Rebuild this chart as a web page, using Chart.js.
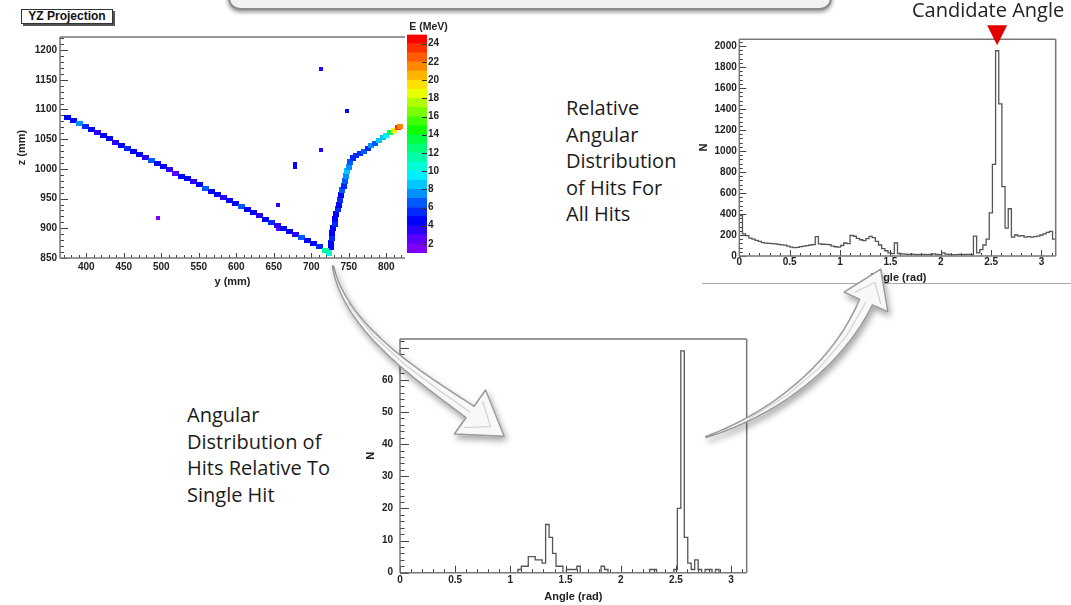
<!DOCTYPE html>
<html>
<head>
<meta charset="utf-8">
<title>Candidate angle from hit angular distributions</title>
<script src="https://cdn.jsdelivr.net/npm/chart.js@4.4.1/dist/chart.umd.min.js"></script>
<style>
  html, body { margin: 0; padding: 0; background: #fff; }
  body { position: relative; width: 1071px; height: 605px; overflow: hidden; }
  .panel { position: absolute; }
  .note { position: absolute; font: 20px 'Open Sans', sans-serif; line-height: 26.6px; color: #1b1b1b; white-space: nowrap; }
  #banner { position: absolute; left: 228px; top: -40px; width: 600px; height: 46px; border: 2px solid #8a8a8a; border-radius: 12px; background: #f2f2f2; box-shadow: 0 2px 4px rgba(0,0,0,.45); }
  #yzTitle { position: absolute; left: 21px; top: 9px; width: 90px; height: 13px; border: 1px solid #333; box-shadow: 2px 2px 0 #555; font: bold 12px 'Liberation Sans', Arial, sans-serif; line-height: 13px; text-align: center; color: #111; background: #fff; }
  #candidate { position: absolute; left: 912px; top: -4px; font: 20px 'Open Sans', sans-serif; line-height: 27px; color: #222; white-space: nowrap; }
  #rule { position: absolute; left: 702px; top: 283px; width: 369px; height: 1px; background: #aaa; }
  #arrows { position: absolute; left: 0; top: 0; z-index: 5; pointer-events: none; }
</style>
</head>
<body>
<div id="banner"></div>
<div id="yzTitle">YZ Projection</div>
<div class="panel" style="left:0;top:28px;width:430px;height:264px"><canvas id="yzChart"></canvas></div>
<div class="panel" style="left:390px;top:20px;width:60px;height:240px"><canvas id="energyBar"></canvas></div>
<div class="panel" style="left:695px;top:20px;width:370px;height:270px"><canvas id="relChart"></canvas></div>
<div class="panel" style="left:360px;top:326px;width:395px;height:279px"><canvas id="singleChart"></canvas></div>
<div id="rule"></div>
<div id="candidate">Candidate Angle</div>
<div class="note" style="left:566px;top:95px">Relative<br>Angular<br>Distribution<br>of Hits For<br>All Hits</div>
<div class="note" style="left:187px;top:402px">Angular<br>Distribution of<br>Hits Relative To<br>Single Hit</div>
<svg id="arrows" width="1071" height="605">
  <defs>
    <filter id="shade" x="-20%" y="-20%" width="140%" height="140%">
      <feDropShadow dx="2" dy="4" stdDeviation="3" flood-color="#000" flood-opacity="0.35"/>
    </filter>
  </defs>
</svg>
<script>
// ── YZ projection hits (y mm, z mm, E MeV) ──
const legY = [375, 383, 391, 399, 407, 415, 423, 431, 439, 447, 455, 463, 471, 479, 487, 495, 503, 511, 519, 527, 535, 543,
              551, 559, 567, 575, 583, 591, 599, 607, 615, 623, 631, 639, 647, 655, 663, 671, 679, 687, 695, 703, 711, 719];
const legZ = [1087, 1082, 1077, 1071, 1066, 1061, 1056, 1051, 1045, 1040, 1035, 1030, 1025, 1019, 1014, 1009, 1004, 999, 993, 988, 983, 978,
              973, 967, 962, 957, 952, 947, 941, 936, 931, 926, 921, 915, 910, 905, 900, 895, 889, 884, 879, 874, 869, 863];
const legE = [4.5, 4.5, 7.5, 5.5, 4.5, 3.5, 4.5, 4.5, 3.5, 4.5, 5.5, 4.5, 4.5, 3.5, 6.5, 4.5, 4.5, 3.5, 2.5, 4.5, 4.5, 3.5,
              4.5, 6.5, 4.5, 4.5, 3.5, 4.5, 4.5, 6.5, 4.5, 4.5, 3.5, 4.5, 5.5, 3.5, 4.5, 4.5, 3.5, 6.5, 4.5, 4.5, 5.5, 11.5];

const riseY = [723, 726, 726, 727, 728, 729, 731, 732, 733, 735, 737, 738, 740, 741, 743, 745, 746, 748, 750, 752, 755];
const riseZ = [859, 868, 876, 884, 892, 900, 908, 916, 924, 932, 940, 948, 956, 964, 972, 980, 988, 996, 1004, 1011, 1018];
const riseE = [10.5, 4.5, 4.5, 5.5, 4.5, 4.5, 5.5, 4.5, 4.5, 5.5, 4.5, 5.5, 4.5, 6.5, 5.5, 6.5, 7.5, 8.5, 7.5, 6.5, 5.5];

const armY = [760, 765, 770, 775, 780, 785, 790, 795, 800, 805, 810, 815, 818];
const armZ = [1022, 1026, 1030, 1034, 1039, 1043, 1047, 1052, 1056, 1061, 1065, 1069, 1072];
const armE = [5.5, 5.5, 6.5, 5.5, 7.5, 6.5, 8.5, 8.5, 9.5, 13.5, 18.5, 23.5, 21.5];

const strayY = [713, 747, 713, 678, 678, 655, 495, 655];
const strayZ = [1168, 1098, 1032, 1008, 1003, 940, 918, 898];
const strayE = [3.5, 4.5, 3.5, 4.5, 4.5, 3.5, 1.5, 2.5];

const yTicksMm = [400, 450, 500, 550, 600, 650, 700, 750, 800];
const zTicksMm = [850, 900, 950, 1000, 1050, 1100, 1150, 1200];

// ── Energy scale ──
const energyEdges = [1, 2, 3, 4, 5, 6, 7, 8, 9, 10, 11, 12, 13, 14, 15, 16, 17, 18, 19, 20, 21, 22, 23, 24, 25];
const energyTicks = [2, 4, 6, 8, 10, 12, 14, 16, 18, 20, 22, 24];
const palette = ['#7d00ff', '#5a00ff', '#2a00ff', '#0000ff', '#0028ff', '#0058ff', '#0090ff', '#00c8ff',
                 '#00f0ff', '#00ffd8', '#00ffa8', '#00ff78', '#00ff40', '#10ff00', '#40ff00', '#78ff00',
                 '#b0ff00', '#e8ff00', '#ffe000', '#ffb400', '#ff8800', '#ff5c00', '#ff3000', '#ff0000'];

// ── Angular histograms, 100 bins over [0, pi] ──
const ANGLE_MIN = 0;
const ANGLE_MAX = Math.PI;
const relCounts = [
  384, 210, 195, 170, 160, 148, 140, 128, 122, 120,
  118, 115, 110, 106, 104, 95, 84, 80, 82, 90,
  95, 98, 105, 108, 184, 115, 112, 110, 108, 95,
  88, 84, 100, 124, 118, 196, 188, 168, 155, 146,
  165, 186, 175, 140, 105, 70, 50, 30, 22, 124,
  24, 20, 18, 16, 18, 15, 14, 16, 15, 14,
  15, 20, 16, 14, 30, 18, 15, 14, 13, 15,
  14, 16, 15, 14, 190, 30, 60, 105, 160, 410,
  873, 1955, 1448, 660, 265, 450, 180, 200, 190, 195,
  180, 185, 180, 185, 190, 200, 210, 225, 235, 160
];
const singleCounts = [
  0, 0, 0, 0, 0, 0, 0, 0, 0, 0,
  0, 0, 0, 0, 0, 0, 0, 0, 0, 0,
  0, 0, 0, 0, 0, 0, 0, 0, 0, 0,
  0, 0, 0, 0, 1, 2, 2, 5, 5, 4,
  4, 3, 15, 11, 6, 2, 2, 0, 1, 1,
  1, 2, 0, 0, 0, 0, 0, 0, 2, 1,
  0, 0, 0, 0, 0, 0, 0, 0, 0, 0,
  0, 0, 1, 1, 0, 0, 0, 0, 0, 1,
  20, 69, 11, 3, 1, 4, 1, 0, 1, 1,
  0, 1, 0, 0, 0, 0, 0, 0, 0, 0
];
const angleTicks = [0, 0.5, 1, 1.5, 2, 2.5, 3];
const relTicks = [0, 200, 400, 600, 800, 1000, 1200, 1400, 1600, 1800, 2000];
const singleTicks = [0, 10, 20, 30, 40, 50, 60];
const candidateAngle = 2.56;

// ── Shared look ──
Chart.defaults.font.family = "'Liberation Sans', Arial, sans-serif";
Chart.defaults.color = '#222';
Chart.defaults.animation = false;
Chart.defaults.responsive = true;
Chart.defaults.maintainAspectRatio = false;
Chart.defaults.plugins.legend.display = false;
Chart.defaults.plugins.tooltip.enabled = false;

const tickFont = { size: 10, weight: 'bold' };
const titleFont = { size: 11, weight: 'bold' };
const useTicks = values => scale => { scale.ticks = values.map(v => ({ value: v })); };
const asText = v => String(v);

// ROOT style: ticks pointing into the frame, plus the frame itself
const rootAxes = {
  id: 'rootAxes',
  afterDatasetsDraw(chart, args, opts) {
    const { ctx, chartArea: a } = chart;
    ctx.save();
    ctx.strokeStyle = opts.tickColor;
    ctx.lineWidth = 1;
    ctx.beginPath();
    (opts.ticks || []).forEach(t => {
      const s = chart.scales[t.axis];
      const first = Math.ceil(s.min / t.minor - 1e-6);
      const last = Math.floor(s.max / t.minor + 1e-6);
      for (let n = first; n <= last; n++) {
        const v = n * t.minor;
        const isMajor = Math.abs(v / t.major - Math.round(v / t.major)) < 1e-6;
        const len = isMajor ? t.majorLen : t.minorLen;
        const p = Math.round(s.getPixelForValue(v)) + 0.5;
        if (s.isHorizontal()) {
          ctx.moveTo(p, a.bottom); ctx.lineTo(p, a.bottom - len);
        } else if (s.position === 'right') {
          ctx.moveTo(a.right, p); ctx.lineTo(a.right - len, p);
        } else {
          ctx.moveTo(a.left, p); ctx.lineTo(a.left + len, p);
        }
      }
    });
    ctx.stroke();
    const sides = opts.sides || '';
    ctx.strokeStyle = opts.frameColor;
    ctx.lineWidth = opts.frameWidth;
    ctx.beginPath();
    if (sides.includes('t')) { ctx.moveTo(a.left, a.top); ctx.lineTo(a.right, a.top); }
    if (sides.includes('r')) { ctx.moveTo(a.right, a.top); ctx.lineTo(a.right, a.bottom); }
    if (sides.includes('b')) { ctx.moveTo(a.left, a.bottom); ctx.lineTo(a.right, a.bottom); }
    if (sides.includes('l')) { ctx.moveTo(a.left, a.top); ctx.lineTo(a.left, a.bottom); }
    ctx.stroke();
    ctx.restore();
  }
};

const candidateMarker = {
  id: 'candidateMarker',
  afterDraw(chart, args, opts) {
    if (!opts.show) return;
    const { ctx, chartArea } = chart;
    const x = chart.scales.x.getPixelForValue(opts.value);
    const top = chartArea.top;
    ctx.save();
    ctx.fillStyle = opts.color;
    ctx.beginPath();
    ctx.moveTo(x - 10, top - 14);
    ctx.lineTo(x + 10, top - 14);
    ctx.lineTo(x, top + 6);
    ctx.closePath();
    ctx.fill();
    ctx.restore();
  }
};

// ── YZ projection ──
const blockCache = {};
function block(color, w, h) {
  const key = color + w + 'x' + h;
  if (!blockCache[key]) {
    const c = document.createElement('canvas');
    c.width = w; c.height = h;
    const g = c.getContext('2d');
    g.fillStyle = color;
    g.fillRect(0, 0, w, h);
    blockCache[key] = c;
  }
  return blockCache[key];
}
function energyColor(e) {
  const i = Math.min(palette.length - 1, Math.max(0, Math.floor(e) - energyEdges[0]));
  return palette[i];
}
function hitSet(ys, zs, es, w, h) {
  return {
    data: ys.map((y, i) => ({ x: y, y: zs[i] })),
    pointStyle: es.map(e => block(energyColor(e), w, h)),
    pointRadius: 3,
    pointHoverRadius: 3,
  };
}

new Chart(document.getElementById('yzChart'), {
  type: 'scatter',
  data: {
    datasets: [
      hitSet(legY, legZ, legE, 7, 5),
      hitSet(riseY, riseZ, riseE, 6, 6),
      hitSet(armY, armZ, armE, 6, 5),
      hitSet(strayY, strayZ, strayE, 4, 4),
    ]
  },
  options: {
    layout: { padding: { left: 0, top: 6, right: 25, bottom: 0 } },
    scales: {
      x: {
        type: 'linear', min: 365, max: 825,
        grid: { display: false, drawTicks: false }, border: { display: false },
        afterBuildTicks: useTicks(yTicksMm),
        afterFit: s => { s.height = 34; },
        ticks: { padding: 3, font: tickFont, maxRotation: 0, callback: asText },
        title: { display: true, text: 'y (mm)', font: titleFont, padding: { top: 0, bottom: 3.4 } },
      },
      y: {
        type: 'linear', min: 850, max: 1222,
        grid: { display: false, drawTicks: false }, border: { display: false },
        afterBuildTicks: useTicks(zTicksMm),
        afterFit: s => { s.width = 60; },
        ticks: { padding: 3, font: tickFont, callback: asText },
        title: { display: true, text: 'z (mm)', font: titleFont, padding: { top: 15.4, bottom: 0 } },
      }
    },
    plugins: {
      rootAxes: {
        tickColor: '#444', frameColor: '#777', frameWidth: 1.5, sides: 'tlb',
        ticks: [
          { axis: 'x', minor: 10, major: 50, majorLen: 5, minorLen: 3 },
          { axis: 'y', minor: 10, major: 50, majorLen: 8, minorLen: 4 },
        ]
      }
    }
  },
  plugins: [rootAxes]
});

// ── Energy colour bar ──
new Chart(document.getElementById('energyBar'), {
  type: 'bar',
  data: {
    labels: ['E'],
    datasets: palette.map((color, i) => ({
      data: [[energyEdges[i], energyEdges[i + 1]]],
      backgroundColor: color,
      borderWidth: 0,
      grouped: false,
      barPercentage: 1,
      categoryPercentage: 1,
    }))
  },
  options: {
    layout: { padding: { left: 17, right: 0, top: 0, bottom: 2 } },
    scales: {
      x: { display: false },
      y: {
        position: 'right', min: energyEdges[0], max: energyEdges[energyEdges.length - 1],
        grid: { display: false, drawTicks: false }, border: { display: false },
        afterBuildTicks: useTicks(energyTicks),
        afterFit: s => { s.width = 23; },
        ticks: { padding: 1, font: tickFont, callback: asText },
      }
    },
    plugins: {
      title: { display: true, text: 'E (MeV)', font: { size: 10.5, weight: 'bold' }, color: '#222', padding: { top: 1, bottom: 1 } },
      rootAxes: {
        tickColor: '#333', frameColor: '#777', frameWidth: 1, sides: '',
        ticks: [{ axis: 'y', minor: 2, major: 2, majorLen: 5, minorLen: 5 }]
      }
    }
  },
  plugins: [rootAxes]
});

// ── Histograms ──
function histPoints(counts) {
  const width = (ANGLE_MAX - ANGLE_MIN) / counts.length;
  const pts = [{ x: ANGLE_MIN, y: 0 }];
  counts.forEach((c, i) => pts.push({ x: ANGLE_MIN + i * width, y: c }));
  pts.push({ x: ANGLE_MAX, y: counts[counts.length - 1] });
  pts.push({ x: ANGLE_MAX, y: 0 });
  return pts;
}

function histogram(id, counts, yMax, nTicks, geo, tickSpec, marker) {
  return new Chart(document.getElementById(id), {
    type: 'line',
    data: {
      datasets: [{
        data: histPoints(counts),
        stepped: true,
        borderColor: '#555',
        borderWidth: 1.3,
        pointRadius: 0,
        fill: false,
      }]
    },
    options: {
      layout: { padding: geo.padding },
      scales: {
        x: {
          type: 'linear', min: ANGLE_MIN, max: ANGLE_MAX,
          grid: { display: false, drawTicks: false }, border: { display: false },
          afterBuildTicks: useTicks(angleTicks),
          afterFit: s => { s.height = geo.xHeight; },
          ticks: { padding: geo.xPad, font: tickFont, maxRotation: 0, callback: asText },
          title: { display: true, text: 'Angle (rad)', font: titleFont, padding: { top: 0, bottom: geo.xTitlePad } },
        },
        y: {
          type: 'linear', min: 0, max: yMax,
          grid: { display: false, drawTicks: false }, border: { display: false },
          afterBuildTicks: useTicks(nTicks),
          afterFit: s => { s.width = geo.yWidth; },
          ticks: { padding: geo.yPad, font: tickFont, callback: asText },
          title: { display: true, text: 'N', font: titleFont, padding: { top: geo.yTitlePad, bottom: 0 } },
        }
      },
      plugins: {
        rootAxes: {
          tickColor: '#444', frameColor: '#777', frameWidth: 1.5, sides: 'tlbr',
          ticks: tickSpec
        },
        candidateMarker: marker
      }
    },
    plugins: [rootAxes, candidateMarker]
  });
}

histogram('relChart', relCounts, 2064, relTicks,
  { padding: { left: 0, top: 19.3, right: 9.3, bottom: 0 }, xHeight: 34, yWidth: 44.3, xPad: 0, yPad: 2.5, xTitlePad: 5.7, yTitlePad: 2.4 },
  [
    { axis: 'x', minor: 0.1, major: 0.5, majorLen: 6, minorLen: 3 },
    { axis: 'y', minor: 40, major: 200, majorLen: 7, minorLen: 3.5 },
  ],
  { show: true, value: candidateAngle, color: '#e40000' });

histogram('singleChart', singleCounts, 72.7, singleTicks,
  { padding: { left: 0, top: 10, right: 8.3, bottom: 0 }, xHeight: 32.3, yWidth: 40, xPad: 2, yPad: 7, xTitlePad: 1.7, yTitlePad: 4.2 },
  [
    { axis: 'x', minor: 0.1, major: 0.5, majorLen: 7, minorLen: 3.5 },
    { axis: 'y', minor: 2, major: 10, majorLen: 9, minorLen: 4.5 },
  ],
  { show: false });

// ── Curved slide arrows ──
function bezierPoint(p, t) {
  const u = 1 - t;
  return [0, 1].map(k => u * u * u * p[0][k] + 3 * u * u * t * p[1][k] + 3 * u * t * t * p[2][k] + t * t * t * p[3][k]);
}
function drawArrow(svg, p, w0, w1, headLen, headHalf) {
  const N = 48, left = [], right = [];
  for (let i = 0; i <= N; i++) {
    const t = i / N;
    const a = bezierPoint(p, Math.max(0, t - 0.005));
    const b = bezierPoint(p, Math.min(1, t + 0.005));
    const c = bezierPoint(p, t);
    let dx = b[0] - a[0], dy = b[1] - a[1];
    const l = Math.hypot(dx, dy); dx /= l; dy /= l;
    const w = w0 + (w1 - w0) * t;
    left.push([c[0] - dy * w, c[1] + dx * w]);
    right.push([c[0] + dy * w, c[1] - dx * w]);
  }
  const end = p[3];
  let dx = p[3][0] - p[2][0], dy = p[3][1] - p[2][1];
  const l = Math.hypot(dx, dy); dx /= l; dy /= l;
  const tip = [end[0] + dx * headLen, end[1] + dy * headLen];
  const hl = [end[0] - dy * headHalf, end[1] + dx * headHalf];
  const hr = [end[0] + dy * headHalf, end[1] - dx * headHalf];
  const pts = left.concat([hl, tip, hr], right.slice().reverse());
  const ns = 'http://www.w3.org/2000/svg';
  const body = document.createElementNS(ns, 'path');
  body.setAttribute('d', 'M' + pts.map(q => q[0].toFixed(1) + ',' + q[1].toFixed(1)).join(' L') + ' Z');
  body.setAttribute('fill', '#f8f8f8');
  body.setAttribute('stroke', '#9a9a9a');
  body.setAttribute('stroke-width', '1.5');
  body.setAttribute('stroke-linejoin', 'round');
  body.setAttribute('filter', 'url(#shade)');
  svg.appendChild(body);
  const mid = document.createElementNS(ns, 'path');
  mid.setAttribute('d', 'M' + [0.2, 0.4, 0.6, 0.8, 1].map(t => bezierPoint(p, t)).map(q => q[0].toFixed(1) + ',' + q[1].toFixed(1)).join(' L'));
  mid.setAttribute('fill', 'none');
  mid.setAttribute('stroke', '#d2d2d2');
  mid.setAttribute('stroke-width', '1.2');
  svg.appendChild(mid);
  const inner = document.createElementNS(ns, 'path');
  const k = 0.6;
  const ti = [end[0] + dx * headLen * k, end[1] + dy * headLen * k];
  const li = [end[0] - dy * headHalf * k + dx * 4, end[1] + dx * headHalf * k + dy * 4];
  const ri = [end[0] + dy * headHalf * k + dx * 4, end[1] - dx * headHalf * k + dy * 4];
  inner.setAttribute('d', `M${li[0]},${li[1]} L${ti[0]},${ti[1]} L${ri[0]},${ri[1]}`);
  inner.setAttribute('fill', 'none');
  inner.setAttribute('stroke', '#d0d0d0');
  inner.setAttribute('stroke-width', '1.2');
  svg.appendChild(inner);
}
const svg = document.getElementById('arrows');
drawArrow(svg, [[333, 266], [345, 330], [425, 380], [470, 412]], 0.6, 7, 42, 27);
drawArrow(svg, [[706, 437], [780, 412], [840, 360], [866, 302]], 0.6, 7, 36, 24);
</script>
</body>
</html>
